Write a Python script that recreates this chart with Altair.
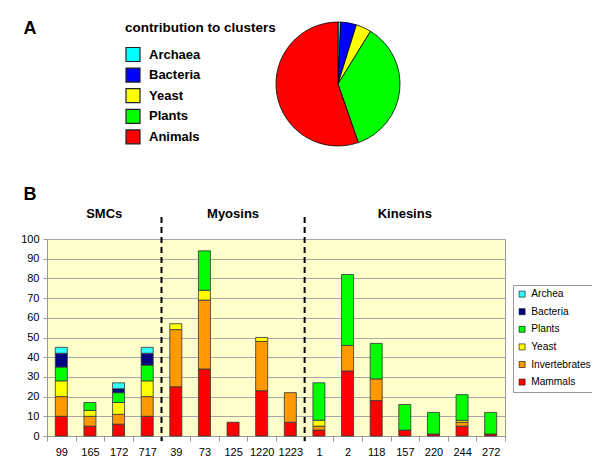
import altair as alt
import pandas as pd

# ---------------- data ----------------
kingdoms = ["Archaea", "Bacteria", "Yeast", "Plants", "Animals"]
kingdom_share = [0.7, 4.1, 4.0, 35.9, 55.3]
kingdom_colors = ["#00FFFF", "#0000FF", "#FFFF00", "#00FF00", "#FF0000"]

clusters = ["99", "165", "172", "717", "39", "73", "125", "1220", "1223",
            "1", "2", "118", "157", "220", "244", "272"]
mammals = [10, 5, 6, 10, 25, 34, 7, 23, 7, 3, 33, 18, 3, 1, 5, 1]
invertebrates = [10, 5, 5, 10, 29, 35, 0, 25, 15, 2, 13, 11, 0, 0, 2, 0]
yeast = [8, 3, 6, 8, 3, 5, 0, 2, 0, 3, 0, 0, 0, 0, 1, 0]
plants = [7, 4, 5, 8, 0, 20, 0, 0, 0, 19, 36, 18, 13, 11, 13, 11]
bacteria = [7, 0, 2, 6, 0, 0, 0, 0, 0, 0, 0, 0, 0, 0, 0, 0]
archea = [3, 0, 3, 3, 0, 0, 0, 0, 0, 0, 0, 0, 0, 0, 0, 0]

species_legend = ["Archea", "Bacteria", "Plants", "Yeast", "Invertebrates", "Mammals"]
species_colors = ["#33FFFF", "#000080", "#00FF00", "#FFFF00", "#FF9900", "#FF0000"]
stack_order = ["Mammals", "Invertebrates", "Yeast", "Plants", "Bacteria", "Archea"]

groups = ["SMCs", "Myosins", "Kinesins"]
group_anchor = ["172", "125", "157"]       # label sits over this cluster
group_band = [0.0, 0.5, 0.5]               # position within anchor band
separators = ["39", "1"]                   # dashed line at left edge of these

# ---------------- tables ----------------
series = {"Mammals": mammals, "Invertebrates": invertebrates, "Yeast": yeast,
          "Plants": plants, "Bacteria": bacteria, "Archea": archea}
rows = []
for sp, vals in series.items():
    for c, v in zip(clusters, vals):
        if v > 0:
            rows.append({"cluster": c, "species": sp, "value": v,
                         "order": stack_order.index(sp)})
bars_df = pd.DataFrame(rows)

pie_df = pd.DataFrame({"kingdom": kingdoms, "share": kingdom_share,
                       "idx": list(range(len(kingdoms)))})
grp_df = pd.DataFrame({"group": groups, "anchor": group_anchor, "band": group_band})
sep_df = pd.DataFrame({"cluster": separators})

FONT = "Liberation Sans"
xscale = alt.Scale(domain=clusters, paddingInner=0, paddingOuter=0)

def xenc(field, band=None):
    kw = {}
    if band is not None:
        kw["bandPosition"] = band
    return alt.X(f"{field}:N", scale=xscale, title=None, **kw)

bars = alt.Chart(bars_df).mark_bar(
    width=alt.RelativeBandSize(0.42), stroke="#333333", strokeWidth=0.8
).encode(
    x=alt.X("cluster:N", scale=xscale, title=None,
            axis=alt.Axis(labelAngle=0, tickBand="extent", tickSize=5,
                          labelPadding=5, labelFont=FONT, labelFontSize=11,
                          labelColor="black", domainColor="#999999",
                          tickColor="#999999", grid=False)),
    y=alt.Y("value:Q", stack="zero", title=None,
            scale=alt.Scale(domain=[0, 100], nice=False),
            axis=alt.Axis(values=list(range(0, 101, 10)), tickSize=4,
                          labelPadding=4, labelFont=FONT, labelFontSize=11,
                          labelColor="black", domainColor="#999999",
                          tickColor="#999999", gridColor="#A8A8A8")),
    color=alt.Color("species:N",
                    scale=alt.Scale(domain=species_legend, range=species_colors),
                    legend=alt.Legend(title=None, orient="none", legendX=466,
                                      legendY=46, symbolType="square",
                                      symbolSize=36, symbolStrokeColor="black",
                                      symbolStrokeWidth=0.6, labelFont=FONT,
                                      labelFontSize=10.2, labelColor="black",
                                      labelOffset=4, rowPadding=6.6, padding=4,
                                      labelLimit=70,
                                      strokeColor="#999999", fillColor="white")),
    order=alt.Order("order:Q"),
)

pie = alt.Chart(pie_df).mark_arc(
    radius=62, stroke="black", strokeWidth=0.8
).encode(
    theta=alt.Theta("share:Q", stack=True),
    color=alt.Color("kingdom:N",
                    scale=alt.Scale(domain=kingdoms, range=kingdom_colors),
                    legend=alt.Legend(title="contribution to clusters",
                                      orient="none", legendX=78, legendY=-218,
                                      symbolType="square", symbolSize=196,
                                      symbolStrokeColor="#222222",
                                      symbolStrokeWidth=1.2,
                                      labelFont=FONT, labelFontSize=13,
                                      labelFontWeight="bold", labelColor="black",
                                      labelOffset=8, rowPadding=0.6,
                                      titleFont=FONT, titleFontSize=13.5,
                                      titleFontWeight="bold", titleColor="black",
                                      titlePadding=12, padding=0)),
    order=alt.Order("idx:Q"),
    x=alt.value(291),
    y=alt.value(-155),
)

seps = alt.Chart(sep_df).mark_rule(
    color="black", strokeWidth=2, strokeDash=[6, 4]
).encode(
    x=xenc("cluster", 0),
    y=alt.value(-22),
    y2=alt.value(202),
)

def group_text(band):
    sub = grp_df[grp_df["band"] == band]
    return alt.Chart(sub).mark_text(
        font=FONT, fontSize=13, fontWeight="bold", color="black",
        baseline="middle", align="center"
    ).encode(x=xenc("anchor", band), y=alt.value(-25), text="group:N")

letters_df = pd.DataFrame({"t": ["A", "B"], "py": [-210.5, -44]})
letters = alt.Chart(letters_df).mark_text(
    font=FONT, fontSize=18, fontWeight="bold", color="black",
    baseline="middle", align="center"
).encode(x=alt.value(-17), y=alt.Y("py:Q", scale=None), text="t:N")

chart = alt.layer(
    bars, seps, group_text(0.0), group_text(0.5), letters, pie
).resolve_scale(color="independent").properties(
    width=458, height=197,
    autosize=alt.AutoSizeParams(type="none"),
    padding={"left": 39, "top": 231, "right": 87, "bottom": 30},
).configure_view(
    fill="#FFFFCC", stroke="#999999"
)

chart.save("out.html", embed_options={"renderer": "svg", "actions": False})
